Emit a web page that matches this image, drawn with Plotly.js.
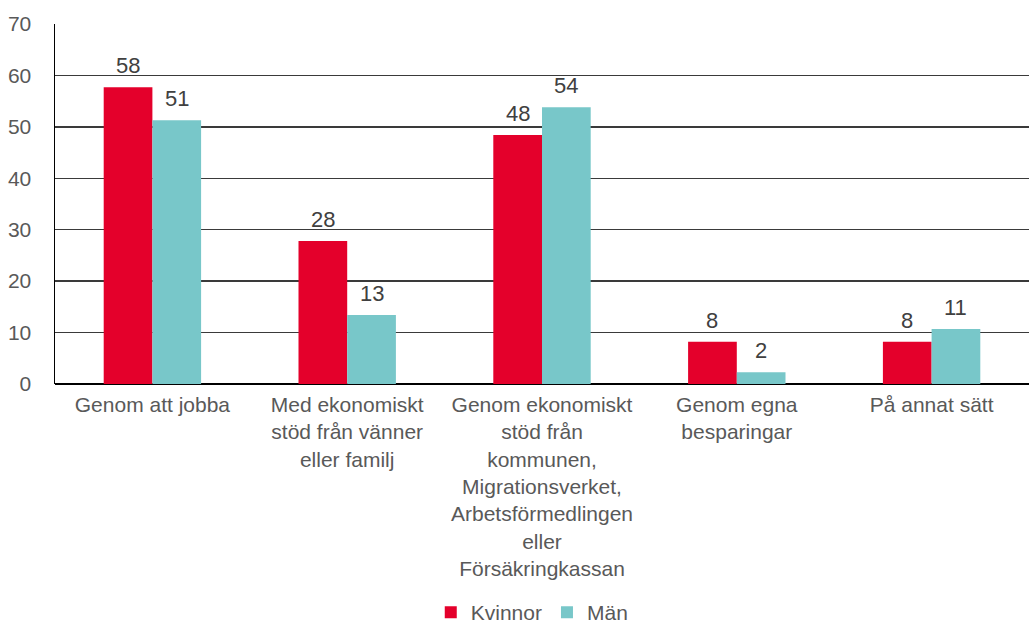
<!DOCTYPE html>
<html>
<head>
<meta charset="utf-8">
<script src="https://cdn.plot.ly/plotly-3.0.1.min.js"></script>
<style>html,body{margin:0;padding:0;background:#fff;}</style>
</head>
<body>
<div id="chart" style="width:1031px;height:626px;"></div>
<script>
const categories = [
  "Genom att jobba",
  "Med ekonomiskt<br>stöd från vänner<br>eller familj",
  "Genom ekonomiskt<br>stöd från<br>kommunen,<br>Migrationsverket,<br>Arbetsförmedlingen<br>eller<br>Försäkringkassan",
  "Genom egna<br>besparingar",
  "På annat sätt"
];
const kvinnor = [57.7, 27.8, 48.4, 8.2, 8.2];
const man = [51.3, 13.4, 53.8, 2.3, 10.7];
const seriesNames = ["Kvinnor", "Män"];
const yTicks = [0, 10, 20, 30, 40, 50, 60, 70];

const fam = "'Liberation Sans', Arial, sans-serif";
const font = {family: fam, size: 21, color: "#595959"};

const traces = [
  {type: "bar", name: seriesNames[0], x: categories, y: kvinnor, marker: {color: "#E4002B"}, hoverinfo: "skip"},
  {type: "bar", name: seriesNames[1], x: categories, y: man, marker: {color: "#78C7C9"}, hoverinfo: "skip"}
];

// data labels placed through the axes (category index +/- quarter of group)
const annotations = [];
[kvinnor, man].forEach((vals, s) => {
  vals.forEach((v, i) => {
    annotations.push({
      x: i + (s === 0 ? -0.125 : 0.125), y: v, xref: "x", yref: "y",
      text: String(Math.round(v)), showarrow: false,
      yanchor: "bottom", yshift: 7,
      font: {family: fam, size: 22, color: "#404040"}
    });
  });
});

const layout = {
  width: 1031, height: 626,
  margin: {l: 55, r: 2, t: 24, b: 242, autoexpand: false},
  paper_bgcolor: "#fff", plot_bgcolor: "#fff",
  font: font,
  barmode: "group", bargap: 0.5, bargroupgap: 0,
  showlegend: true,
  legend: {orientation: "h", x: 0.49, xanchor: "center", y: -0.635, yanchor: "middle",
           font: {family: fam, size: 21, color: "#595959"}, traceorder: "normal", itemwidth: 30},
  xaxis: {type: "category", tickfont: font, showgrid: false, ticks: "", showline: false, zeroline: false,
          automargin: false, ticklabelstandoff: 6},
  yaxis: {range: [0, 70], tickvals: yTicks, ticktext: yTicks.map(String), tickfont: font,
          showgrid: true, gridcolor: "#3a3a3a", gridwidth: 1.3, zeroline: true, zerolinecolor: "#000", zerolinewidth: 1.5,
          showline: true, linecolor: "#000", linewidth: 1.5, ticks: "", ticklabelstandoff: 18, automargin: false},
  annotations: annotations
};

Plotly.newPlot("chart", traces, layout, {displayModeBar: false, staticPlot: true});
</script>
</body>
</html>
